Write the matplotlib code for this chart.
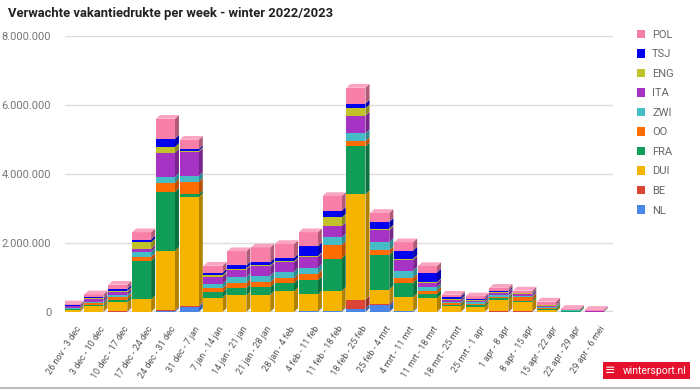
import numpy as np
import matplotlib.pyplot as plt
from matplotlib.patches import Patch, FancyBboxPatch
from matplotlib.colors import to_rgb
from matplotlib.ticker import FuncFormatter
from matplotlib.transforms import ScaledTranslation

plt.rcParams['font.family'] = ['Roboto', 'DejaVu Sans']

weeks = ["26 nov - 3 dec", "3 dec - 10 dec", "10 dec - 17 dec", "17 dec - 24 dec",
         "24 dec - 31 dec", "31 dec - 7 jan", "7 jan - 14 jan", "14 jan - 21 jan",
         "21 jan - 28 jan", "28 jan - 4 feb", "4 feb - 11 feb", "11 feb - 18 feb",
         "18 feb - 25 feb", "25 feb - 4 mrt", "4 mrt - 11 mrt", "11 mrt - 18 mrt",
         "18 mrt - 25 mrt", "25 mrt - 1 apr", "1 apr - 8 apr", "8 apr - 15 apr",
         "15 apr - 22 apr", "22 apr - 29 apr", "29 apr - 6 mei"]

# values in millions of people
NL  = [0, 0, 0.01, 0, 0.03, 0.15, 0, 0, 0, 0, 0.02, 0.03, 0.10, 0.19, 0.03, 0, 0, 0, 0, 0, 0, 0, 0]
BE  = [0, 0.01, 0.02, 0, 0.03, 0.03, 0, 0, 0, 0, 0, 0, 0.26, 0.05, 0, 0, 0, 0, 0.03, 0.02, 0, 0, 0]
DUI = [0.06, 0.15, 0.25, 0.37, 1.71, 3.15, 0.42, 0.48, 0.50, 0.60, 0.49, 0.58, 3.05, 0.41, 0.40, 0.40, 0.16, 0.15, 0.33, 0.27, 0.05, 0, 0]
FRA = [0.02, 0.04, 0.08, 1.11, 1.71, 0.08, 0.15, 0.21, 0.22, 0.24, 0.41, 0.94, 1.39, 1.00, 0.41, 0.12, 0.05, 0.05, 0.05, 0.04, 0.05, 0.04, 0.01]
OO  = [0.02, 0.05, 0.07, 0.12, 0.27, 0.36, 0.12, 0.15, 0.14, 0.14, 0.19, 0.39, 0.15, 0.14, 0.15, 0.10, 0.04, 0.04, 0.03, 0.10, 0.02, 0, 0]
ZWI = [0.02, 0.05, 0.06, 0.15, 0.17, 0.17, 0.13, 0.17, 0.19, 0.19, 0.17, 0.22, 0.23, 0.24, 0.21, 0.10, 0.04, 0.04, 0.04, 0.03, 0.03, 0.01, 0]
ITA = [0.05, 0.08, 0.08, 0.08, 0.70, 0.70, 0.20, 0.22, 0.27, 0.27, 0.31, 0.33, 0.51, 0.34, 0.31, 0.12, 0.06, 0.05, 0.08, 0.06, 0.02, 0, 0.01]
ENG = [0.01, 0.03, 0.04, 0.19, 0.16, 0.03, 0.05, 0.03, 0.03, 0.03, 0.03, 0.25, 0.22, 0.05, 0.03, 0.02, 0.02, 0.02, 0.02, 0.02, 0.02, 0, 0]
TSJ = [0.01, 0.02, 0.06, 0.08, 0.24, 0.05, 0.07, 0.09, 0.09, 0.09, 0.28, 0.19, 0.13, 0.19, 0.24, 0.28, 0.06, 0.03, 0.04, 0.02, 0.01, 0, 0]
POL = [0.03, 0.08, 0.12, 0.21, 0.58, 0.27, 0.20, 0.41, 0.43, 0.41, 0.41, 0.43, 0.46, 0.26, 0.24, 0.19, 0.07, 0.07, 0.08, 0.06, 0.10, 0.04, 0.04]

names = ["NL", "BE", "DUI", "FRA", "OO", "ZWI", "ITA", "ENG", "TSJ", "POL"]
series = [NL, BE, DUI, FRA, OO, ZWI, ITA, ENG, TSJ, POL]
colors = ["#4a86e8", "#dc4437", "#f4b400", "#0f9d58", "#ff6d00",
          "#46bdc6", "#a633c4", "#c1c12a", "#0000ee", "#f77fa8"]

fig = plt.figure(figsize=(7, 3.9), dpi=100)
ax = fig.add_axes([0.093, 0.2, 0.783, 0.7077])

x = np.arange(len(weeks))
w = 0.8
dx, dy = 0.17, 110000  # fake depth for the 3d look
bottom = np.zeros(len(weeks))
for name, vals, c in zip(names, series, colors):
    v = np.array(vals) * 1e6
    ax.bar(x, v, w, bottom=bottom, color=c, linewidth=0, zorder=3)
    dark = tuple(k * 0.72 for k in to_rgb(c))
    for i in range(len(x)):
        if v[i] <= 0:
            continue
        b, t = bottom[i], bottom[i] + v[i]
        xr = x[i] + w / 2
        ax.fill([xr, xr + dx, xr + dx, xr], [b, b + dy, t + dy, t],
                color=dark, lw=0, zorder=2)
    bottom += v

# top faces
top_idx = [max([k for k in range(len(series)) if series[k][i] > 0]) for i in range(len(x))]
for i in range(len(x)):
    light = tuple(k + (1 - k) * 0.3 for k in to_rgb(colors[top_idx[i]]))
    t = bottom[i]
    xl, xr = x[i] - w / 2, x[i] + w / 2
    ax.fill([xl, xl + dx, xr + dx, xr], [t, t + dy, t + dy, t], color=light, lw=0, zorder=3)

ax.axhline(0, color="#d9d9d9", lw=2.5, zorder=1)
ax.set_xlim(-0.21, 22.8)
ax.set_ylim(0, 8e6)
ax.set_yticks([0, 2e6, 4e6, 6e6, 8e6])
ax.yaxis.set_major_formatter(FuncFormatter(lambda v, p: "{:,.0f}".format(v).replace(",", ".")))
ax.grid(axis="y", color="#dedede", lw=1, zorder=0)
for s in ax.spines.values():
    s.set_visible(False)
ax.tick_params(axis="y", length=0, pad=10, labelsize=8, labelcolor="#777777")
ax.tick_params(axis="x", length=0, pad=9, labelsize=6.5, labelcolor="#555555")
ax.set_xticks(x)
ax.set_xticklabels(weeks, rotation=57, ha="right", rotation_mode="anchor")
shift = ScaledTranslation(5 / 100, 0, fig.dpi_scale_trans)
for lab in ax.get_xticklabels():
    lab.set_transform(lab.get_transform() + shift)

fig.text(0.012, 0.965, "Verwachte vakantiedrukte per week - winter 2022/2023",
         fontsize=9.4, fontweight="bold", color="#222222", va="center")

handles = [Patch(facecolor=c, edgecolor="none") for c in colors[::-1]]
fig.legend(handles, names[::-1], loc="upper left", bbox_to_anchor=(0.895, 0.95),
           frameon=False, fontsize=8, labelcolor="#666666", handlelength=0.8,
           handleheight=0.8, labelspacing=0.85, handletextpad=0.6)

fig.add_artist(plt.Line2D([0, 1], [0.006, 0.006], color="#bbbbbb", lw=1.5,
                          transform=fig.transFigure))
fig.patches.append(FancyBboxPatch((0.862, 0.027), 0.124, 0.045, boxstyle="square,pad=0",
                                  facecolor="#e5102c", edgecolor="none",
                                  transform=fig.transFigure, figure=fig))
fig.text(0.872, 0.05, "\u2261", fontsize=9, color="white", ha="center", va="center")
fig.text(0.935, 0.05, "wintersport.nl", fontsize=7.5, color="white", ha="center",
         va="center")

fig.savefig("out.png", dpi=100)
